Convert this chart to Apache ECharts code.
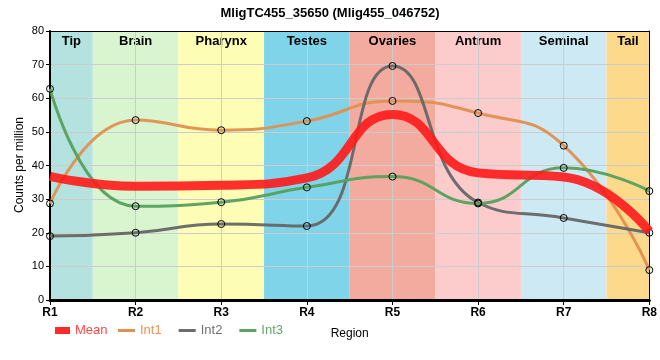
<!DOCTYPE html>
<html>
<head>
<meta charset="utf-8">
<script src="https://cdn.jsdelivr.net/npm/echarts@6/dist/echarts.min.js"></script>
<style>html,body{margin:0;padding:0;background:#fff}#c{width:660px;height:360px}</style>
</head>
<body>
<div id="c"></div>
<script>
// ---- data ----
var regionLabels = ['R1','R2','R3','R4','R5','R6','R7','R8'];
var regionPos = [1, 2, 3, 4, 5, 6, 7, 8];
var meanVals = [36.8, 33.8, 34.1, 36.3, 55.2, 37.8, 36.6, 20.4];
var int1Vals = [28.7, 53.5, 50.5, 53.2, 59.2, 55.6, 45.9, 8.9];
var int2Vals = [19.0, 20.0, 22.6, 22.0, 69.6, 29.0, 24.4, 20.0];
var int3Vals = [62.8, 27.9, 29.1, 33.5, 36.7, 28.7, 39.3, 32.4];
var tissueNames = ['Tip','Brain','Pharynx','Testes','Ovaries','Antrum','Seminal','Tail'];
var tissueStart = [1, 1.5, 2.5, 3.5, 4.5, 5.5, 6.5, 7.5];
var tissueEnd = [1.5, 2.5, 3.5, 4.5, 5.5, 6.5, 7.5, 8];
var tissueColors = ['#b4e3df','#d8f5d0','#fdfdb5','#7fd4ea','#f4ab9f','#fccbcb','#cdeaf4','#fdd98b'];
var yTicks = [0, 10, 20, 30, 40, 50, 60, 70, 80];
var yAxisTitle = 'Counts per million';

function pts(vals){ return regionPos.map(function(x,i){ return [x, vals[i]]; }); }

var FONT = '"Liberation Sans", Arial, sans-serif';
var chart = echarts.init(document.getElementById('c'), null, {renderer:'canvas'});

var areas = tissueNames.map(function(n,i){
  return [{name:n, xAxis:tissueStart[i], itemStyle:{color:tissueColors[i], opacity:1}}, {xAxis:tissueEnd[i]}];
});

var symStyle = {color:'rgba(0,0,0,0)', borderColor:'#000', borderWidth:1};

chart.setOption({
  animation:false,
  textStyle:{fontFamily:FONT},
  title:{text:'MligTC455_35650 (Mlig455_046752)', left:'center', top:2,
    textStyle:{fontSize:13, fontWeight:'bold', color:'#000', fontFamily:FONT}},
  grid:{left:50, right:10, top:31, bottom:60},
  graphic:[{type:'text', x:20, y:165, rotation:Math.PI/2, silent:true,
    style:{text:yAxisTitle, fill:'#000', font:'12px ' + FONT, align:'center', verticalAlign:'middle'}}],
  legend:[
    {data:[{name:'Mean', icon:'rect', itemStyle:{color:'#ff2a2a', borderWidth:0}, textStyle:{color:'#ff4848'}}],
     left:55, top:324, padding:0, itemWidth:15, itemHeight:7, itemGap:5,
     textStyle:{fontSize:13, fontFamily:FONT}},
    {data:[
      {name:'Int1', icon:'rect', itemStyle:{color:'#e0904f', borderWidth:0}, textStyle:{color:'#e8945a'}},
      {name:'Int2', icon:'rect', itemStyle:{color:'#6b6b6b', borderWidth:0}, textStyle:{color:'#707070'}},
      {name:'Int3', icon:'rect', itemStyle:{color:'#5da463', borderWidth:0}, textStyle:{color:'#62a868'}}],
     left:118, top:324, padding:0, itemWidth:17, itemHeight:3, itemGap:17,
     textStyle:{fontSize:13, fontFamily:FONT}}
  ],
  xAxis:[{
    type:'value', min:1, max:8, interval:1, z:3,
    name:'Region', nameLocation:'middle', nameGap:28,
    nameTextStyle:{fontSize:12, color:'#000', fontFamily:FONT},
    axisLine:{show:true, onZero:false, lineStyle:{color:'#000', width:3}},
    axisTick:{show:true, length:5, lineStyle:{color:'#000', width:1}},
    axisLabel:{fontSize:12, fontWeight:'bold', color:'#000', margin:7,
      formatter:function(v){ return regionLabels[regionPos.indexOf(v)] || ''; }},
    splitLine:{show:true, lineStyle:{color:'#cccccc', width:1}}
  },{
    type:'value', min:1, max:8, position:'top', z:3,
    axisLine:{show:true, onZero:false, lineStyle:{color:'#000', width:1}},
    axisTick:{show:false}, axisLabel:{show:false}, splitLine:{show:false}
  }],
  yAxis:[{
    type:'value', min:0, max:80, interval:10, z:3,
    axisLine:{show:true, onZero:false, lineStyle:{color:'#000', width:2}},
    axisTick:{show:true, length:4, lineStyle:{color:'#000'}},
    axisLabel:{fontSize:11, color:'#000', margin:6,
      formatter:function(v){ return yTicks.indexOf(v) >= 0 ? String(v) : ''; }},
    splitLine:{show:true, lineStyle:{color:'#cccccc', width:1}}
  },{
    type:'value', min:0, max:80, position:'right', z:3,
    axisLine:{show:true, onZero:false, lineStyle:{color:'#000', width:1}},
    axisTick:{show:false}, axisLabel:{show:false}, splitLine:{show:false}
  }],
  series:[
    {type:'line', name:'bands', data:[], z:1, silent:true,
     markArea:{silent:true,
       label:{show:true, position:'insideTop', distance:4, fontSize:13, fontWeight:'bold', color:'#000', fontFamily:FONT},
       data:areas}},
    {type:'line', name:'Int1', data:pts(int1Vals), smooth:true, z:5,
     lineStyle:{color:'#e0904f', width:3, opacity:0.95},
     symbol:'circle', symbolSize:7, itemStyle:symStyle},
    {type:'line', name:'Int2', data:pts(int2Vals), smooth:true, z:5,
     lineStyle:{color:'#666666', width:3, opacity:0.95},
     symbol:'circle', symbolSize:7, itemStyle:symStyle},
    {type:'line', name:'Int3', data:pts(int3Vals), smooth:true, z:5,
     lineStyle:{color:'#56a05c', width:3, opacity:0.95},
     symbol:'circle', symbolSize:7, itemStyle:symStyle},
    {type:'line', name:'Mean', data:pts(meanVals), smooth:true, z:6,
     lineStyle:{color:'#ff1a1a', width:9, opacity:0.9},
     showSymbol:false, symbol:'none'}
  ]
});
</script>
</body>
</html>
